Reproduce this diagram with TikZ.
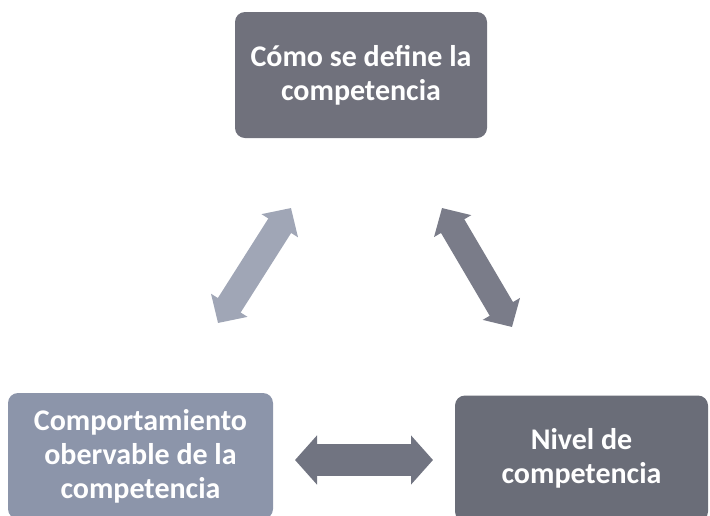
\documentclass[tikz,border=0pt]{standalone}
\usepackage{fontspec}
\setmainfont{Carlito}
\usetikzlibrary{arrows.meta}
\definecolor{boxtop}{RGB}{112,113,124}
\definecolor{boxleft}{RGB}{140,149,170}
\definecolor{boxright}{RGB}{106,109,120}
\definecolor{arrleft}{RGB}{160,166,182}
\definecolor{arrright}{RGB}{122,124,137}
\definecolor{arrmid}{RGB}{113,116,129}
\tikzset{
  card/.style={rounded corners=10pt, text=white, align=center,
    font=\fontsize{30}{34}\selectfont\bfseries, inner sep=0pt,
    minimum height=126pt},
  diagarrow/.style={line width=27pt,
    {Triangle[length=21pt,width=42pt]}-{Triangle[length=21pt,width=42pt]}},
  horarrow/.style={line width=32pt,
    {Triangle[length=22pt,width=48pt]}-{Triangle[length=22pt,width=48pt]}}
}
\begin{document}
\begin{tikzpicture}[x=1pt,y=-1pt]
\useasboundingbox (0,0) rectangle (710,515);
\clip (0,0) rectangle (710,515);
\node[card, fill=boxtop, minimum width=252pt] (top) at (361,75)
  {Cómo se define la\\competencia};
\node[card, fill=boxleft, minimum width=265pt] (left) at (140.5,456)
  {Comportamiento\\obervable de la\\competencia};
\node[card, fill=boxright, minimum width=253pt] (right) at (581.5,458.5)
  {Nivel de\\competencia};
\coordinate (a1) at (218,323);
\coordinate (a2) at (291,208);
\coordinate (b1) at (442,208);
\coordinate (b2) at (512,327);
\coordinate (c1) at (295,460);
\coordinate (c2) at (433,460);
\draw[diagarrow, draw=arrleft] (a1) -- (a2);
\draw[diagarrow, draw=arrright] (b1) -- (b2);
\draw[horarrow, draw=arrmid] (c1) -- (c2);
\end{tikzpicture}
\end{document}
